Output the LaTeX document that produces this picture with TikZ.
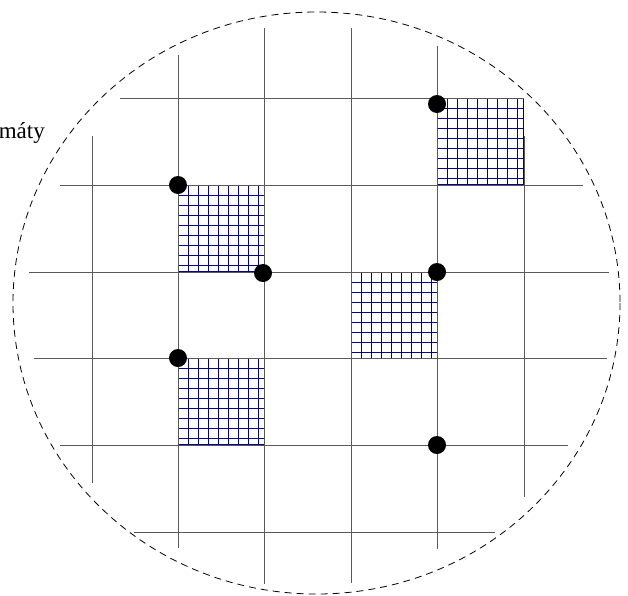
\documentclass[tikz,border=0pt]{standalone}
\usepackage{fontspec}
\setmainfont{Liberation Serif}
\definecolor{gridblue}{rgb}{0,0,0.55}
\definecolor{linegray}{rgb}{0.35,0.35,0.35}
\begin{document}
\begin{tikzpicture}[x=1pt,y=-1pt]
        \def\a{86}
        \def\s{10pt}
        \useasboundingbox (0,0) rectangle (628,595);

        % label, cut at the left border
        \node[anchor=base east, inner sep=0pt, font=\fontsize{23}{28}\selectfont] (label) at (45,138) {máty};

        % wafer outline
        \draw[dash pattern=on 7pt off 5pt, line width=0.8pt] (316.5,303) ellipse [x radius=303.5, y radius=291];

        % fine grid in the marked cells
        \foreach \x/\y in {178/185, 437/98, 351/272, 178/358} {
            \draw[gridblue, line width=0.5pt, shift={(\x,\y)}, step=\s] (0,0) grid (\a,\a);
            \draw[gridblue, line width=0.5pt] (\x,\y) rectangle ++(\a,\a);
        }

        % vertical cuts: x / top / bottom
        \foreach \x/\ya/\yb in {92/136/483, 178/55/548, 264/28/584, 351/28/583, 437/46/549, 524/136/497}
            \draw[linegray, line width=0.8pt] (\x,\ya) -- (\x,\yb);

        % horizontal cuts: y / left / right
        \foreach \y/\xa/\xb in {98/120/524, 185/60/583, 272/29/609, 358/34/607, 445/60/568, 532/134/495}
            \draw[linegray, line width=0.8pt] (\xa,\y) -- (\xb,\y);

        % marks
        \foreach \p in {(178,185), (263,273), (437,104), (437,272), (178,358), (437,445)}
            \fill \p circle[radius=9];
    \end{tikzpicture}
\end{document}
